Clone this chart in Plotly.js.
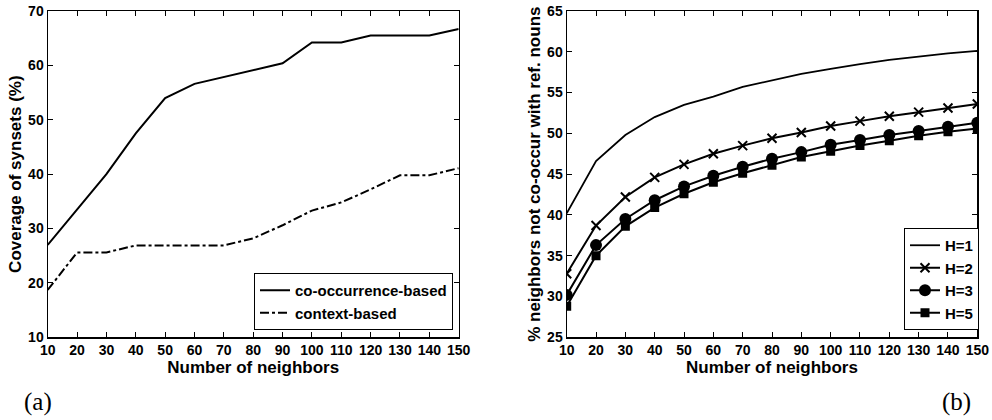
<!DOCTYPE html>
<html>
<head>
<meta charset="utf-8">
<script src="https://cdn.plot.ly/plotly-3.0.1.min.js"></script>
<style>html,body{margin:0;padding:0;background:#fff}#chart{width:992px;height:420px}</style>
</head>
<body>
<div id="chart"></div>
<script>
const neighbors = [10,20,30,40,50,60,70,80,90,100,110,120,130,140,150];
const cooccurrence = [27.0,33.5,40.0,47.5,54.0,56.6,57.9,59.1,60.4,64.2,64.2,65.5,65.5,65.5,66.7];
const contextBased = [18.7,25.6,25.6,26.9,26.9,26.9,26.9,28.2,30.6,33.3,34.8,37.2,39.8,39.8,41.1];
const h1 = [40.2,46.6,49.8,52.0,53.5,54.5,55.7,56.5,57.3,57.9,58.5,59.0,59.4,59.8,60.1];
const h2 = [32.8,38.7,42.2,44.6,46.2,47.5,48.5,49.4,50.1,50.9,51.5,52.1,52.6,53.1,53.6];
const h3 = [30.2,36.3,39.5,41.8,43.5,44.8,45.9,46.9,47.7,48.6,49.2,49.8,50.3,50.8,51.3];
const h5 = [28.8,35.0,38.6,40.9,42.6,44.0,45.1,46.1,47.1,47.8,48.5,49.1,49.7,50.2,50.6];
const xTicks = neighbors;
const leftYTicks = [10,20,30,40,50,60,70];
const rightYTicks = [25,30,35,40,45,50,55,60,65];

const W = 992, H = 420;
const bold = {family: 'Liberation Sans, Arial, sans-serif', size: 14, color: '#000', weight: 'bold'};
const legendFont = {family: 'Liberation Sans, Arial, sans-serif', size: 15, color: '#000', weight: 'bold'};
const titleFont = {family: 'Liberation Sans, Arial, sans-serif', size: 17, color: '#000', weight: 'bold'};

const traces = [
  {x: neighbors, y: cooccurrence, name: 'co-occurrence-based', mode: 'lines', line: {color: '#000', width: 2}, xaxis: 'x', yaxis: 'y', legend: 'legend'},
  {x: neighbors, y: contextBased, name: 'context-based', mode: 'lines', line: {color: '#000', width: 2, dash: 'dashdot'}, xaxis: 'x', yaxis: 'y', legend: 'legend'},
  {x: neighbors, y: h1, name: 'H=1', mode: 'lines', line: {color: '#000', width: 1.8}, xaxis: 'x2', yaxis: 'y2', legend: 'legend2'},
  {x: neighbors, y: h2, name: 'H=2', mode: 'lines+markers', line: {color: '#000', width: 2}, marker: {symbol: 'x-thin', size: 9, color: '#000', line: {color: '#000', width: 2}}, xaxis: 'x2', yaxis: 'y2', legend: 'legend2'},
  {x: neighbors, y: h3, name: 'H=3', mode: 'lines+markers', line: {color: '#000', width: 2}, marker: {symbol: 'circle', size: 12, color: '#000'}, xaxis: 'x2', yaxis: 'y2', legend: 'legend2'},
  {x: neighbors, y: h5, name: 'H=5', mode: 'lines+markers', line: {color: '#000', width: 2}, marker: {symbol: 'square', size: 9, color: '#000'}, xaxis: 'x2', yaxis: 'y2', legend: 'legend2'}
];

function axisBase(extra) {
  return Object.assign({
    showgrid: false, zeroline: false, showline: true, linecolor: '#000', linewidth: 1.2,
    mirror: 'ticks', ticks: 'inside', ticklen: 5, tickwidth: 1, tickcolor: '#000',
    tickfont: bold, automargin: false, fixedrange: true
  }, extra);
}

const layout = {
  width: W, height: H,
  margin: {l: 0, r: 0, t: 0, b: 0},
  paper_bgcolor: '#fff', plot_bgcolor: '#fff',
  showlegend: true,
  xaxis: axisBase({domain: [47.7/W, 458.7/W], range: [10,150], tickvals: xTicks, anchor: 'y',
    title: {text: 'Number of neighbors', font: titleFont, standoff: 0}}),
  yaxis: axisBase({domain: [1-337.3/H, 1-11/H], range: [10,70], tickvals: leftYTicks, anchor: 'x',
    title: {text: 'Coverage of synsets (%)', font: titleFont, standoff: 2}}),
  xaxis2: axisBase({domain: [566.7/W, 977.3/W], range: [10,150], tickvals: xTicks, anchor: 'y2',
    title: {text: 'Number of neighbors', font: titleFont, standoff: 0}}),
  yaxis2: axisBase({domain: [1-337.3/H, 1-11/H], range: [25,65], tickvals: rightYTicks, anchor: 'x2',
    title: {text: '% neighbors not co-occur with ref. nouns', font: titleFont, standoff: 2}}),
  legend: {x: 453/W, y: 1-330/H, xanchor: 'right', yanchor: 'bottom', xref: 'paper', yref: 'paper',
    bgcolor: '#fff', bordercolor: '#000', borderwidth: 1, font: legendFont, itemwidth: 30, tracegroupgap: 0},
  legend2: {x: 979/W, y: 1-330/H, xanchor: 'right', yanchor: 'bottom', xref: 'paper', yref: 'paper',
    bgcolor: '#fff', bordercolor: '#000', borderwidth: 1, font: legendFont, itemwidth: 30, tracegroupgap: 0},
  annotations: [
    {text: '(a)', x: 22/W, y: 1-402/H, xref: 'paper', yref: 'paper', xanchor: 'left', yanchor: 'middle', showarrow: false,
      font: {family: 'Liberation Serif, Times New Roman, serif', size: 25, color: '#000'}},
    {text: '(b)', x: 973/W, y: 1-402/H, xref: 'paper', yref: 'paper', xanchor: 'right', yanchor: 'middle', showarrow: false,
      font: {family: 'Liberation Serif, Times New Roman, serif', size: 25, color: '#000'}}
  ]
};

Plotly.newPlot('chart', traces, layout, {displayModeBar: false, staticPlot: true});
</script>
</body>
</html>
